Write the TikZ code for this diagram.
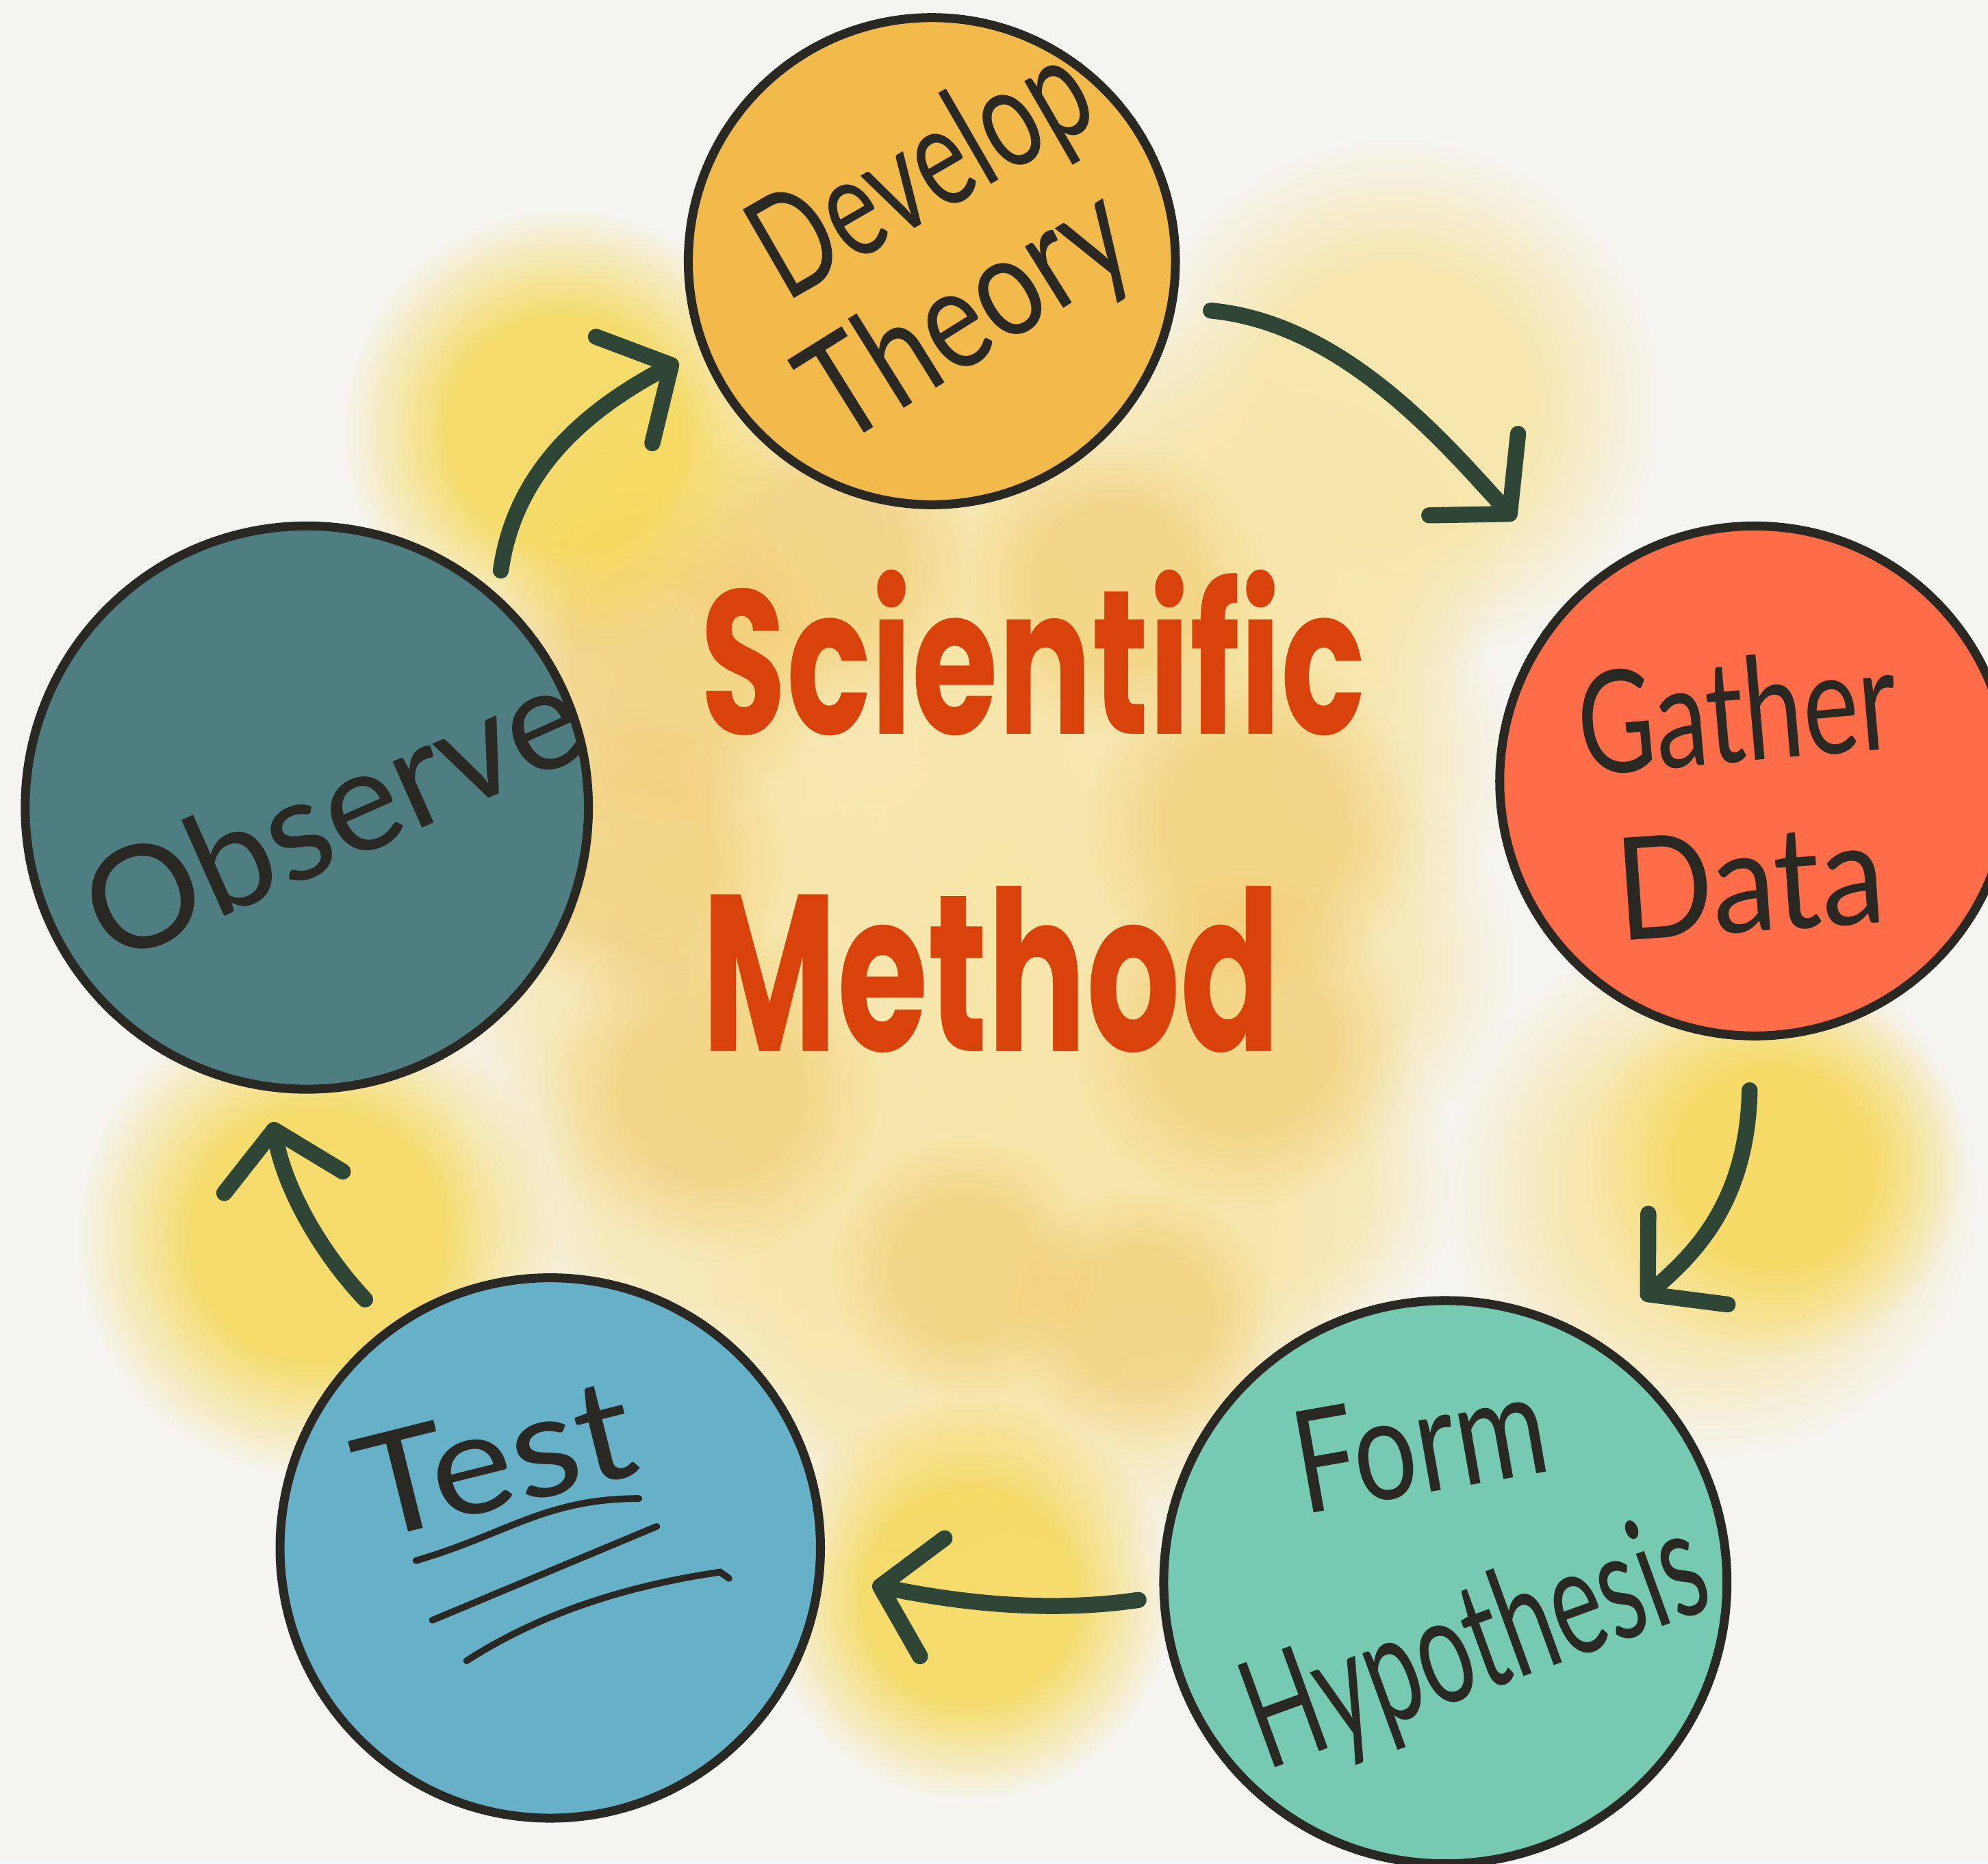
\documentclass[tikz,border=0pt]{standalone}
\usepackage{fontspec}
\usepackage{graphicx}
\setmainfont{Lato}
\newfontfamily\titlefont{Poppins}
\usetikzlibrary{arrows.meta,fadings}
\definecolor{bg}{HTML}{F5F4F0}
\definecolor{ink}{HTML}{2A2823}
\definecolor{arrowc}{HTML}{2F4536}
\definecolor{titlec}{HTML}{D9420B}
\definecolor{cDev}{HTML}{F2BA4B}
\definecolor{cGat}{HTML}{FF6C48}
\definecolor{cObs}{HTML}{4F7E82}
\definecolor{cTes}{HTML}{66B1C8}
\definecolor{cHyp}{HTML}{76CAB2}
\definecolor{yBright}{HTML}{F6D64C}
\definecolor{yWarm}{HTML}{F1C35E}
\definecolor{yPale}{HTML}{F7E6A8}
\pgfdeclareradialshading{blobshade}{\pgfpointorigin}{color(0bp)=(white); color(13bp)=(white); color(25bp)=(black); color(50bp)=(black)}
\pgfdeclarefading{softblob}{\pgfuseshading{blobshade}}
\tikzset{
  bubble/.style={circle, draw=ink, line width=2pt, inner sep=0pt},
  lbl/.style={text=ink, inner sep=0pt, font=\fontsize{32}{36}\selectfont},
  ttl/.style={text=titlec, inner sep=0pt, font=\titlefont\bfseries\fontsize{46}{50}\selectfont},
  flow/.style={draw=arrowc, line width=3.6pt, line cap=round, line join=round,
    -{Straight Barb[round, length=0.42cm, width=0.95cm]}},
  uline/.style={draw=ink, line width=1.5pt, line cap=round},
  blob/.style={path fading=softblob, fill opacity=0.5},
}
\begin{document}
\begin{tikzpicture}[x=0.01cm,y=-0.01cm]
\useasboundingbox (0,0) rectangle (1568,1470);
\fill[bg] (0,0) rectangle (1568,1470);
\clip (0,0) rectangle (1568,1470);

% watercolour wash in the centre (pale base)
\foreach \px/\py/\r in {560/450/165, 720/430/180, 880/420/180, 1020/450/165,
  520/600/180, 700/600/225, 880/600/225, 1030/600/165,
  520/780/180, 700/780/225, 880/780/225, 1030/760/165,
  560/930/180, 720/950/210, 900/940/195, 1000/930/150,
  720/1060/165, 880/1060/165}
  \fill[yPale, blob, fill opacity=0.7] (\px,\py) circle[radius=\r];
% warmer patches of the wash
\foreach \px/\py/\r in {520/520/135, 500/680/120, 560/860/135, 990/650/135,
  980/820/135, 900/1040/105, 650/440/120, 880/460/120, 760/1000/105}
  \fill[yWarm, blob, fill opacity=0.45] (\px,\py) circle[radius=\r];
% washes around the arrows
\fill[yBright, blob, fill opacity=0.8] (445,340) circle[radius=175];
\fill[yPale, blob, fill opacity=0.9] (1100,320) circle[radius=210];
\fill[yPale, blob, fill opacity=0.9] (1350,940) circle[radius=210];
\fill[yBright, blob, fill opacity=0.7] (1400,920) circle[radius=150];
\fill[yBright, blob, fill opacity=0.8] (765,1260) circle[radius=160];
\fill[yBright, blob, fill opacity=0.8] (250,975) circle[radius=190];

% circles
\node[bubble, fill=cDev, minimum size=3.84cm] (dev) at (735,206) {};
\node[bubble, fill=cGat, minimum size=4.02cm] (gat) at (1384,616) {};
\node[bubble, fill=cObs, minimum size=4.44cm] (obs) at (242,637) {};
\node[bubble, fill=cTes, minimum size=4.26cm] (tes) at (434,1221) {};
\node[bubble, fill=cHyp, minimum size=4.44cm] (hyp) at (1140,1248) {};

% labels
\node[lbl, rotate=30] (tDev) at (729,139) {\scalebox{0.7}[1]{Develop}};
\node[lbl, rotate=32] (tThe) at (765,252) {\scalebox{0.8}[1]{Theory}};
\node[lbl, rotate=5] (tGat) at (1370,560) {\scalebox{0.74}[1]{Gather}};
\node[lbl, rotate=4] (tDat) at (1380,695) {\scalebox{0.9}[1]{Data}};
\node[lbl, rotate=24] (tObs) at (262,640) {Observe};
\node[lbl, rotate=14] (tTes) at (390,1150) {\scalebox{1.1}[1]{Test}};
\node[lbl, rotate=10] (tFor) at (1120,1138) {\scalebox{0.78}[1]{Form}};
\node[lbl, rotate=20, font=\fontsize{34}{38}\selectfont] (tHyp) at (1165,1300) {\scalebox{0.64}[1]{Hypothesis}};

% underlines of Test
\draw[uline] (328,1231) .. controls (400,1210) and (430,1182) .. (504,1182);
\draw[uline] (341,1278) -- (518,1204);
\draw[uline] (368,1310) .. controls (430,1270) and (500,1250) .. (568,1240) -- (575,1245);

% title
\node[ttl] (tSci) at (815,515) {\scalebox{0.68}[1]{Scientific}};
\node[ttl, font=\titlefont\bfseries\fontsize{50}{54}\selectfont] (tMet) at (782,765) {\scalebox{0.66}[1]{Method}};

% arrow end points
\coordinate (a1s) at (395,450);  \coordinate (a1e) at (535,285);
\coordinate (a2s) at (955,245);  \coordinate (a2e) at (1195,410);
\coordinate (a3s) at (1380,860); \coordinate (a3e) at (1295,1025);
\coordinate (a4s) at (898,1262); \coordinate (a4e) at (688,1250);
\coordinate (a5s) at (288,1025); \coordinate (a5e) at (215,885);

\draw[flow] (a1s) .. controls (405,380) and (450,330) .. (a1e);
\draw[flow] (a2s) .. controls (1060,255) and (1140,350) .. (a2e);
\draw[flow] (a3s) .. controls (1378,950) and (1335,990) .. (a3e);
\draw[flow] (a4s) .. controls (830,1272) and (760,1265) .. (a4e);
\draw[flow] (a5s) .. controls (255,990) and (225,940) .. (a5e);
\end{tikzpicture}
\end{document}
